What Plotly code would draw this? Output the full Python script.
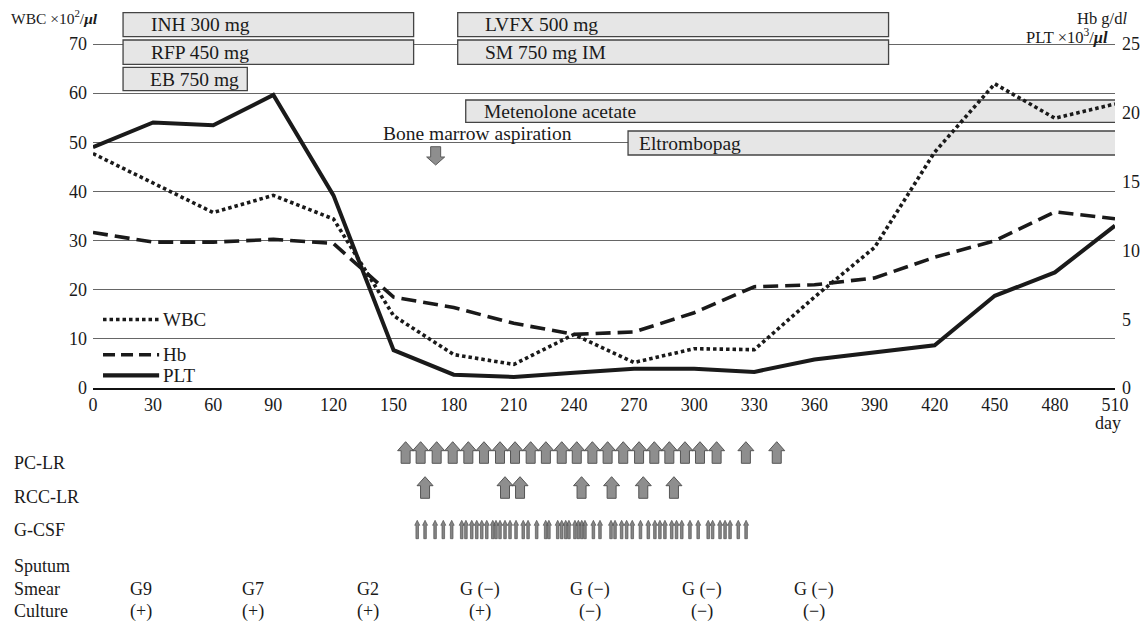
import plotly.graph_objects as go

# ---------------- data ----------------
days = [0, 30, 60, 90, 120, 150, 180, 210, 240, 270, 300, 330, 360, 390, 420, 450, 480, 510]
wbc = [47.7, 41.6, 35.7, 39.2, 34.4, 14.7, 6.8, 4.8, 10.9, 5.2, 8.0, 7.8, 18.5, 28.6, 48.0, 61.9, 54.9, 57.8]
hb = [11.3, 10.6, 10.6, 10.8, 10.5, 6.6, 5.85, 4.7, 3.9, 4.07, 5.47, 7.36, 7.5, 8.0, 9.5, 10.7, 12.8, 12.3]
plt_vals = [17.5, 19.3, 19.1, 21.3, 14.0, 2.75, 0.97, 0.8, 1.1, 1.39, 1.39, 1.17, 2.07, 2.55, 3.1, 6.7, 8.4, 11.8]

drug_names = ["INH 300 mg", "RFP 450 mg", "EB 750 mg", "LVFX 500 mg", "SM 750 mg IM",
              "Metenolone acetate", "Eltrombopag"]
drug_start = [15, 15, 15, 182, 182, 186, 267]
drug_end = [160, 160, 77, 397, 397, 511, 511]

bone_marrow_day = 171
pc_lr_days = [156, 163.5, 171.5, 179.5, 187.3, 195.1, 203.1, 210.6, 218.4, 226, 233.9, 241.4,
              249.2, 256.8, 264.6, 272.5, 280.1, 287.6, 295.4, 302.9, 311.2, 325.8, 341.2]
rcc_lr_days = [165.7, 205.6, 213.1, 243.8, 258.8, 274.6, 289.9]
gcsf_days = [161.8, 165.7, 170.7, 174.8, 179.0, 184.0, 186.1, 189.0, 191.5, 194.0, 196.5, 199.5,
             201.1, 203.1, 205.6, 208.1, 211.1, 214.7, 217.1, 221.4, 225.9, 227.5, 231.9, 233.9,
             235.9, 237.5, 240.5, 242.2, 243.9, 245.5, 249.7, 253.0, 258.5, 260.5, 263.8, 266.3,
             269.1, 273.2, 277.1, 280.4, 282.9, 285.4, 288.8, 291.2, 293.8, 297.9, 302.0, 307.0,
             309.2, 312.9, 315.4, 317.9, 322.0, 325.9]

sputum_days = [24, 80, 137, 193, 248, 304, 360]
smear = ["G9", "G7", "G2", "G (\u2212)", "G (\u2212)", "G (\u2212)", "G (\u2212)"]
culture = ["(+)", "(+)", "(+)", "(+)", "(\u2212)", "(\u2212)", "(\u2212)"]

x_ticks = list(range(0, 511, 30))
left_ticks = list(range(0, 71, 10))
right_ticks = list(range(0, 26, 5))

# ---------------- layout constants ----------------
W, H = 1148, 623
ML, MR = 93, 33
PLOT_W = W - ML - MR
X0, X1 = 0, 510
PX_PER_DAY = PLOT_W / (X1 - X0)
AXIS_PX = 388                  # pixel row of the zero line
PX_PER_UNIT = 344 / 70         # left axis scale
Y_TOP = AXIS_PX / PX_PER_UNIT
Y2_TOP = Y_TOP * 25 / 70
MAIN_BOTTOM = (H - AXIS_PX) / H

FONT = "Liberation Serif"
INK = "#1a1a1a"


def u(px):
    """pixel row (main area) -> left-axis units"""
    return (AXIS_PX - px) / PX_PER_UNIT


def up_arrows(centers, top, bottom, head_w, shaft_w, head_h):
    xs, ys = [], []
    hw, sw = head_w / 2 / PX_PER_DAY, shaft_w / 2 / PX_PER_DAY
    for d in centers:
        xs += [d - sw, d - sw, d - hw, d, d + hw, d + sw, d + sw, d - sw, None]
        ys += [bottom, top + head_h, top + head_h, top, top + head_h, top + head_h, bottom, bottom, None]
    return xs, ys


fig = go.Figure()

# data lines
fig.add_trace(go.Scatter(x=days, y=hb, yaxis="y2", mode="lines", name="Hb",
                         line=dict(color=INK, width=3.6, dash="15px,7px"), hoverinfo="skip"))
fig.add_trace(go.Scatter(x=days, y=wbc, yaxis="y", mode="lines", name="WBC",
                         line=dict(color=INK, width=3.6, dash="3.5px,3px"), hoverinfo="skip"))
fig.add_trace(go.Scatter(x=days, y=plt_vals, yaxis="y2", mode="lines", name="PLT",
                         line=dict(color=INK, width=4), hoverinfo="skip"))

# bone marrow aspiration arrow (pointing down)
bm_top, bm_neck, bm_tip = 146.7, 157.0, 165.0
sw = 10 / 2 / PX_PER_DAY
hw = 18 / 2 / PX_PER_DAY
d = bone_marrow_day
fig.add_trace(go.Scatter(
    x=[d - sw, d - sw, d - hw, d, d + hw, d + sw, d + sw, d - sw],
    y=[u(bm_top), u(bm_neck), u(bm_neck), u(bm_tip), u(bm_neck), u(bm_neck), u(bm_top), u(bm_top)],
    yaxis="y", mode="lines", fill="toself", fillcolor="#8e8e8e",
    line=dict(color="#5a5a5a", width=1), hoverinfo="skip"))

# lower region arrows (y3 is in pixel rows)
for centers, top, bottom, hwid, swid, hh, fc, lw in [
    (pc_lr_days, 441.7, 463.3, 16, 9, 9, "#8e8e8e", 1.0),
    (rcc_lr_days, 476.7, 498.3, 16, 9, 9, "#8e8e8e", 1.0),
    (gcsf_days, 520.3, 538.7, 5, 2.6, 5, "#858585", 0.7),
]:
    xs, ys = up_arrows(centers, top, bottom, hwid, swid, hh)
    fig.add_trace(go.Scatter(x=xs, y=ys, yaxis="y3", mode="lines", fill="toself",
                             fillcolor=fc, line=dict(color="#555555", width=lw),
                             hoverinfo="skip"))

shapes = []
annotations = []

# drug boxes
rows_px = [(12.7, 36.7), (40.0, 64.3), (67.3, 90.7), (12.7, 36.7), (40.0, 64.3),
           (100.0, 122.3), (131.0, 155.0)]
text_pad = [26, 26, 25, 25, 25, 16, 9]
for name, s, e, (t, b), pad in zip(drug_names, drug_start, drug_end, rows_px, text_pad):
    shapes.append(dict(type="rect", xref="x", yref="y", x0=s, x1=e, y0=u(b), y1=u(t),
                       fillcolor="#e6e6e6", line=dict(color="#444444", width=1.3),
                       layer="between"))
    annotations.append(dict(text=name, xref="x", yref="y", x=s, xshift=pad,
                            y=u((t + b) / 2), xanchor="left", yanchor="middle",
                            showarrow=False, font=dict(family=FONT, size=19.5, color=INK)))

# bone marrow text
annotations.append(dict(text="Bone marrow aspiration", xref="x", yref="y", x=bone_marrow_day,
                        xshift=42, y=u(133), xanchor="center", yanchor="middle", showarrow=False,
                        font=dict(family=FONT, size=19.5, color=INK)))

# in-plot legend
legend_items = [("WBC", "3.5px,3px", 3.6, 319.5), ("Hb", "12px,6px", 3.6, 354.7), ("PLT", "solid", 4.2, 375.4)]
for label, dash, wdt, ypx in legend_items:
    shapes.append(dict(type="line", xref="x", yref="y", x0=5, x1=33, y0=u(ypx), y1=u(ypx),
                       line=dict(color=INK, width=wdt, dash=dash)))
    annotations.append(dict(text=label, xref="x", yref="y", x=33, xshift=2, y=u(ypx),
                            xanchor="left", yanchor="middle", showarrow=False,
                            font=dict(family=FONT, size=19, color=INK)))

# axis titles
annotations.append(dict(text="WBC \u00d710<sup>2</sup>/<b><i>\u03bcl</i></b>", xref="paper", yref="paper",
                        x=(9 - ML) / PLOT_W, y=1 - 17 / H, xanchor="left", yanchor="middle",
                        showarrow=False, font=dict(family=FONT, size=15.5, color=INK)))
annotations.append(dict(text="Hb g/d<i>l</i>", xref="paper", yref="paper",
                        x=(1129 - ML) / PLOT_W, y=1 - 18 / H, xanchor="right", yanchor="middle",
                        showarrow=False, font=dict(family=FONT, size=16.5, color=INK)))
annotations.append(dict(text="PLT \u00d710<sup>3</sup>/<b><i>\u03bcl</i></b>", xref="paper", yref="paper",
                        x=(1110 - ML) / PLOT_W, y=1 - 36 / H, xanchor="right", yanchor="middle",
                        showarrow=False, font=dict(family=FONT, size=16.5, color=INK)))
annotations.append(dict(text="day", xref="x", yref="y3", x=X1, xshift=-7, y=423,
                        xanchor="center", yanchor="middle", showarrow=False,
                        font=dict(family=FONT, size=18, color=INK)))

# lower region labels
for label, ypx in [("PC-LR", 463), ("RCC-LR", 496.5), ("G-CSF", 530),
                   ("Sputum", 566), ("Smear", 589), ("Culture", 611)]:
    annotations.append(dict(text=label, xref="paper", yref="y3", x=(12 - ML) / PLOT_W, y=ypx,
                            xanchor="left", yanchor="middle", showarrow=False,
                            font=dict(family=FONT, size=18, color=INK)))
for dday, sm, cu in zip(sputum_days, smear, culture):
    annotations.append(dict(text=sm, xref="x", yref="y3", x=dday, y=589, xanchor="center",
                            yanchor="middle", showarrow=False,
                            font=dict(family=FONT, size=18, color=INK)))
    annotations.append(dict(text=cu, xref="x", yref="y3", x=dday, y=611, xanchor="center",
                            yanchor="middle", showarrow=False,
                            font=dict(family=FONT, size=18, color=INK)))

fig.update_layout(
    width=W, height=H,
    margin=dict(l=ML, r=MR, t=0, b=0, pad=0, autoexpand=False),
    paper_bgcolor="white", plot_bgcolor="white",
    showlegend=False,
    font=dict(family=FONT, size=18, color=INK),
    xaxis=dict(range=[X0, X1], tickvals=x_ticks, ticktext=[str(t) for t in x_ticks],
               showgrid=False, zeroline=False, showline=True, linecolor="#111111", linewidth=1.5,
               ticks="", tickfont=dict(family=FONT, size=18, color=INK), anchor="y",
               automargin=False),
    yaxis=dict(domain=[MAIN_BOTTOM, 1], range=[0, Y_TOP], tickvals=left_ticks,
               ticktext=[str(t) for t in left_ticks], showgrid=True, gridcolor="#666666",
               gridwidth=1.1, zeroline=False, showline=False, ticks="", ticklabelstandoff=5,
               tickfont=dict(family=FONT, size=18, color=INK), automargin=False),
    yaxis2=dict(overlaying="y", side="right", range=[0, Y2_TOP], tickvals=right_ticks,
                ticktext=[str(t) for t in right_ticks], showgrid=False, zeroline=False,
                showline=False, ticks="", ticklabelstandoff=6,
                tickfont=dict(family=FONT, size=18, color=INK), automargin=False),
    yaxis3=dict(domain=[0, MAIN_BOTTOM], range=[H, AXIS_PX], visible=False, anchor="x"),
    shapes=shapes,
    annotations=annotations,
)

fig.write_html("out.html", config={"displayModeBar": False},
               post_script="document.body.style.margin='0';")
